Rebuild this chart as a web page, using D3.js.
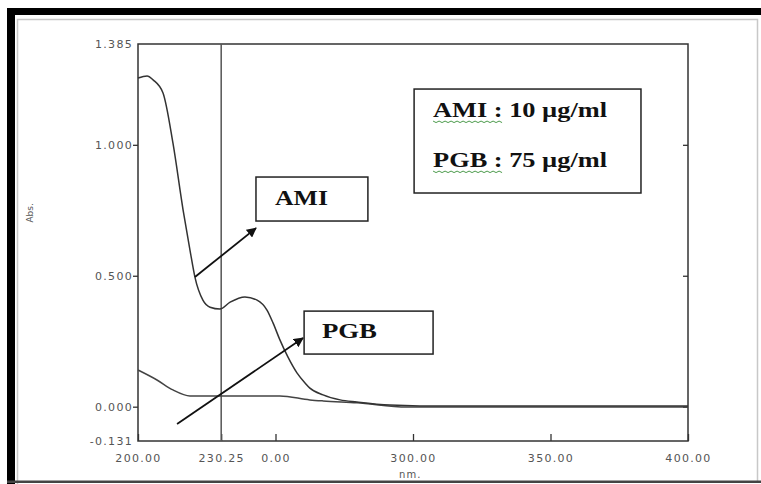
<!DOCTYPE html>
<html>
<head>
<meta charset="utf-8">
<script src="https://cdn.jsdelivr.net/npm/d3@7"></script>
<style>
  body { margin: 0; background: #fff; }
  .tick text { font-family: "DejaVu Sans", sans-serif; font-size: 11px; fill: #555; letter-spacing: 1.3px; }
  .axisText { font-family: "DejaVu Sans", sans-serif; fill: #555; }
  .boxText { font-family: "Liberation Serif", "Times New Roman", serif; font-weight: bold; fill: #111; }
</style>
</head>
<body>
<div id="chart"></div>
<script>
// Spectrum data
var amiWavelength = [200, 203.3, 205.5, 209.1, 212.7, 216.4, 218.9, 220.7, 223.6, 226.2, 229.8, 233.5, 238.9, 243.3, 246.9, 249.1, 251.6, 254.5, 257.8, 260.7, 262.5, 267.3, 273.5, 279.6, 291.6, 302.5, 400];
var amiAbs = [1.255, 1.263, 1.248, 1.198, 1.007, 0.751, 0.598, 0.495, 0.407, 0.380, 0.373, 0.399, 0.419, 0.407, 0.369, 0.320, 0.255, 0.190, 0.129, 0.091, 0.071, 0.045, 0.026, 0.018, 0.006, 0.003, 0.003];

var pgbWavelength = [200, 206.9, 212.7, 218.9, 229.8, 251.6, 262.5, 267.3, 279.6, 297.8, 400];
var pgbAbs = [0.140, 0.102, 0.064, 0.041, 0.041, 0.041, 0.026, 0.022, 0.015, -0.001, -0.001];

// Axis ticks
var xTicks = [200, 230.25, 250, 300, 350, 400];
var xTickLabels = ["200.00", "230.25", "0.00", "300.00", "350.00", "400.00"];
var yTicks = [1.385, 1.0, 0.5, 0.0, -0.131];
var yTickLabels = ["1.385", "1.000", "0.500", "0.000", "-0.131"];
var cursorWavelength = 230.25;

// Legend lines
var legendLines = ["AMI : 10 \u00b5g/ml", "PGB : 75 \u00b5g/ml"];

//SVG size
var svgWidth = 761;
var svgHeight = 484;

var margin = { top: 44, right: 73, bottom: 43, left: 138 };
var chartWidth = svgWidth - margin.left - margin.right;
var chartHeight = svgHeight - margin.top - margin.bottom;

var svg = d3.select("#chart")
    .append("svg")
    .attr("width", svgWidth)
    .attr("height", svgHeight);

// Outer frame of the screenshot
svg.append("rect").attr("x", 0).attr("y", 0).attr("width", svgWidth).attr("height", svgHeight).attr("fill", "#fff");
svg.append("rect").attr("x", 7).attr("y", 8).attr("width", 8).attr("height", svgHeight - 8).attr("fill", "#000");
svg.append("rect").attr("x", 7).attr("y", 8).attr("width", svgWidth - 7).attr("height", 7).attr("fill", "#000");
svg.append("path").attr("d", "M17.5,484V19.5H757.5V481").attr("fill", "none").attr("stroke", "#c8c8c8").attr("stroke-width", 1.5);
svg.append("rect").attr("x", 7).attr("y", 480.5).attr("width", svgWidth - 7).attr("height", 2.5).attr("fill", "#444");

var chartGroup = svg.append("g")
    .attr("transform", `translate(${margin.left}, ${margin.top})`);

var xScale = d3.scaleLinear().domain([200, 400]).range([0, chartWidth]);
var yScale = d3.scaleLinear().domain([-0.131, 1.385]).range([chartHeight, 0]);

// Bottom axis with inward ticks
var bottomAxis = d3.axisBottom(xScale)
    .tickValues(xTicks)
    .tickFormat((d, i) => xTickLabels[i])
    .tickSizeInner(-7)
    .tickSizeOuter(0)
    .tickPadding(13);

var xAxisG = chartGroup.append("g")
    .attr("transform", `translate(0, ${chartHeight})`)
    .call(bottomAxis);
xAxisG.select(".domain").remove();
xAxisG.selectAll(".tick line").attr("stroke", "#333").attr("stroke-width", 1.3);

var leftAxis = d3.axisLeft(yScale)
    .tickValues(yTicks)
    .tickFormat((d, i) => yTickLabels[i])
    .tickSizeInner(5)
    .tickSizeOuter(0)
    .tickPadding(0);

var yAxisG = chartGroup.append("g").call(leftAxis);
yAxisG.select(".domain").remove();
yAxisG.selectAll(".tick line").attr("stroke", "#333").attr("stroke-width", 1.3);
yAxisG.selectAll(".tick").filter(d => d == 1.385 || d == -0.131).select("line").remove();

// Right side inward ticks
var rightAxis = d3.axisRight(yScale).tickValues([1.0, 0.5, 0.0]).tickSizeInner(-5).tickSizeOuter(0).tickFormat("");
var rAxisG = chartGroup.append("g").attr("transform", `translate(${chartWidth}, 0)`).call(rightAxis);
rAxisG.select(".domain").remove();
rAxisG.selectAll(".tick line").attr("stroke", "#333").attr("stroke-width", 1.3);

// Plot border
chartGroup.append("rect")
    .attr("width", chartWidth)
    .attr("height", chartHeight)
    .attr("fill", "none")
    .attr("stroke", "#333")
    .attr("stroke-width", 1.5);

// Cursor line
chartGroup.append("line")
    .attr("x1", xScale(cursorWavelength))
    .attr("x2", xScale(cursorWavelength))
    .attr("y1", 0)
    .attr("y2", chartHeight)
    .attr("stroke", "#555")
    .attr("stroke-width", 1.5);

// Spectra
var line = d3.line()
    .x(d => xScale(d[0]))
    .y(d => yScale(d[1]))
    .curve(d3.curveMonotoneX);

chartGroup.append("path")
    .datum(d3.zip(pgbWavelength, pgbAbs))
    .attr("d", line)
    .attr("fill", "none")
    .attr("stroke", "#444")
    .attr("stroke-width", 1.5);

chartGroup.append("path")
    .datum(d3.zip(amiWavelength, amiAbs))
    .attr("d", line)
    .attr("fill", "none")
    .attr("stroke", "#333")
    .attr("stroke-width", 1.5);

// Axis titles
chartGroup.append("text")
    .attr("class", "axisText")
    .attr("transform", `translate(${-105}, ${yScale(0.74)}) rotate(-90)`)
    .attr("text-anchor", "middle")
    .attr("font-size", "9px")
    .text("Abs.");

chartGroup.append("text")
    .attr("class", "axisText")
    .attr("x", xScale(299))
    .attr("y", chartHeight + 37)
    .attr("text-anchor", "middle")
    .attr("font-size", "10px")
    .attr("letter-spacing", "1px")
    .text("nm.");

// Arrow marker
svg.append("defs").append("marker")
    .attr("id", "arrow")
    .attr("viewBox", "0 0 10 10")
    .attr("refX", 9)
    .attr("refY", 5)
    .attr("markerWidth", 5.5)
    .attr("markerHeight", 5.5)
    .attr("markerUnits", "strokeWidth")
    .attr("orient", "auto")
    .append("path")
    .attr("d", "M0,0L10,5L0,10Z")
    .attr("fill", "#111");

// Arrows (data units)
var arrows = [
    { x1: 220.7, y1: 0.495, x2: 242.9, y2: 0.682 },
    { x1: 214.2, y1: -0.066, x2: 260.0, y2: 0.262 }
];
chartGroup.selectAll(".arrow")
    .data(arrows)
    .enter()
    .append("line")
    .attr("x1", d => xScale(d.x1))
    .attr("y1", d => yScale(d.y1))
    .attr("x2", d => xScale(d.x2))
    .attr("y2", d => yScale(d.y2))
    .attr("stroke", "#111")
    .attr("stroke-width", 1.8)
    .attr("marker-end", "url(#arrow)");

// Label boxes
var boxes = [
    { text: "AMI", x0: 242.9, x1: 283.6, y0: 0.877, y1: 0.709, tx: 249.8, ty: 0.770, w: 53 },
    { text: "PGB", x0: 260.4, x1: 307.3, y0: 0.365, y1: 0.201, tx: 266.9, ty: 0.262, w: 55 }
];
boxes.forEach(function(b) {
    chartGroup.append("rect")
        .attr("x", xScale(b.x0))
        .attr("y", yScale(b.y0))
        .attr("width", xScale(b.x1) - xScale(b.x0))
        .attr("height", yScale(b.y1) - yScale(b.y0))
        .attr("fill", "#fff")
        .attr("stroke", "#222")
        .attr("stroke-width", 1.5);
    chartGroup.append("text")
        .attr("class", "boxText")
        .attr("x", xScale(b.tx))
        .attr("y", yScale(b.ty))
        .attr("font-size", "21px")
        .attr("textLength", b.w)
        .attr("lengthAdjust", "spacingAndGlyphs")
        .text(b.text);
});

// Concentration legend box
chartGroup.append("rect")
    .attr("x", xScale(300.4))
    .attr("y", yScale(1.213))
    .attr("width", xScale(382.9) - xScale(300.4))
    .attr("height", yScale(0.816) - yScale(1.213))
    .attr("fill", "#fff")
    .attr("stroke", "#222")
    .attr("stroke-width", 1.5);

var legendY = [1.106, 0.915];
legendLines.forEach(function(t, i) {
    var lx = xScale(307.3);
    var ly = yScale(legendY[i]);
    chartGroup.append("text")
        .attr("class", "boxText")
        .attr("x", lx)
        .attr("y", ly)
        .attr("font-size", "20px")
        .attr("textLength", 174)
        .attr("lengthAdjust", "spacingAndGlyphs")
        .text(t);
    // spell-check squiggle under the drug name
    var pts = d3.range(0, 71, 3).map((d, k) => [lx + d, ly + 4 + (k % 2 ? 1.5 : 0)]);
    chartGroup.append("path")
        .attr("d", d3.line()(pts))
        .attr("fill", "none")
        .attr("stroke", "#4a9a4a")
        .attr("stroke-width", 1);
});
</script>
</body>
</html>
